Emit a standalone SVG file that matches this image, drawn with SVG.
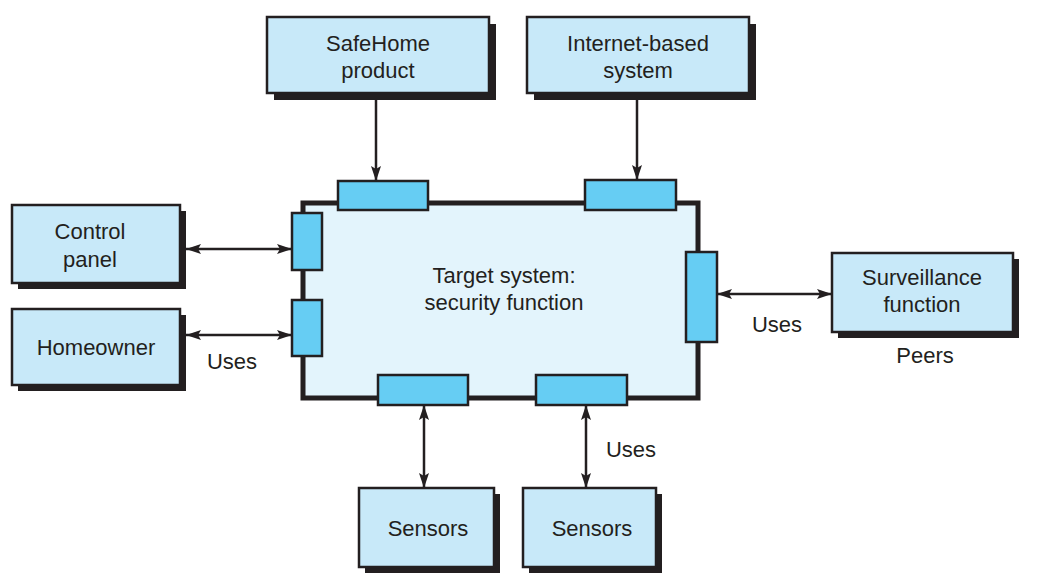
<svg xmlns="http://www.w3.org/2000/svg" width="1047" height="581" viewBox="0 0 1047 581">
<defs>
<style>
.bg{fill:#ffffff}
.shadow{fill:#231f20}
.box{fill:#c8e9f9;stroke:#231f20;stroke-width:2.5}
.main{fill:#e3f4fc;stroke:#231f20;stroke-width:5}
.port{fill:#66cdf3;stroke:#231f20;stroke-width:2.5}
.conn{stroke:#231f20;stroke-width:2.5;fill:none}
text{font-family:"Liberation Sans",Arial,sans-serif;font-size:22px;fill:#231f20;text-anchor:middle}
</style>
<marker id="ah" viewBox="0 0 15 10" refX="15" refY="5" markerWidth="15" markerHeight="10" markerUnits="userSpaceOnUse" orient="auto-start-reverse">
<path d="M0,0 L15,5 L0,10 L3,5 z" fill="#231f20"/>
</marker>
</defs>
<rect class="bg" x="0" y="0" width="1047" height="581"/>

<g id="target-system">
<rect class="main" x="303" y="203" width="395" height="195"/>
<rect class="port" x="338" y="181" width="90" height="29"/>
<rect class="port" x="585" y="180" width="91" height="30"/>
<rect class="port" x="292" y="213" width="30" height="57"/>
<rect class="port" x="292" y="300" width="30" height="56"/>
<rect class="port" x="686" y="252" width="31" height="90"/>
<rect class="port" x="378" y="375" width="90" height="30"/>
<rect class="port" x="536" y="375" width="91" height="30"/>
<text x="504" y="283">Target system:</text>
<text x="504" y="310">security function</text>
</g>

<g id="safehome-product">
<rect class="shadow" x="274" y="24" width="222" height="76"/>
<rect class="box" x="267" y="17" width="222" height="76"/>
<text x="378" y="51">SafeHome</text>
<text x="378" y="78">product</text>
</g>

<g id="internet-based-system">
<rect class="shadow" x="534" y="24" width="222" height="76"/>
<rect class="box" x="527" y="17" width="222" height="76"/>
<text x="638" y="51">Internet-based</text>
<text x="638" y="78">system</text>
</g>

<g id="control-panel">
<rect class="shadow" x="18" y="211" width="168" height="78"/>
<rect class="box" x="12" y="205" width="168" height="78"/>
<text x="90" y="239">Control</text>
<text x="90" y="267">panel</text>
</g>

<g id="homeowner">
<rect class="shadow" x="18" y="315" width="168" height="76"/>
<rect class="box" x="12" y="309" width="168" height="76"/>
<text x="96" y="355">Homeowner</text>
</g>

<g id="surveillance-function">
<rect class="shadow" x="838" y="259" width="181" height="79"/>
<rect class="box" x="832" y="253" width="181" height="79"/>
<text x="922" y="285">Surveillance</text>
<text x="922" y="312">function</text>
</g>

<g id="sensors-1">
<rect class="shadow" x="365" y="494" width="135" height="79"/>
<rect class="box" x="359" y="488" width="135" height="79"/>
<text x="428" y="536">Sensors</text>
</g>

<g id="sensors-2">
<rect class="shadow" x="529" y="494" width="133" height="79"/>
<rect class="box" x="523" y="488" width="133" height="79"/>
<text x="592" y="536">Sensors</text>
</g>

<g id="connectors">
<line class="conn" x1="376" y1="100" x2="376" y2="181" marker-end="url(#ah)"/>
<line class="conn" x1="637" y1="100" x2="637" y2="180" marker-end="url(#ah)"/>
<line class="conn" x1="186" y1="249" x2="292" y2="249" marker-start="url(#ah)" marker-end="url(#ah)"/>
<line class="conn" x1="186" y1="335" x2="292" y2="335" marker-start="url(#ah)" marker-end="url(#ah)"/>
<line class="conn" x1="717" y1="294" x2="832" y2="294" marker-start="url(#ah)" marker-end="url(#ah)"/>
<line class="conn" x1="424" y1="405" x2="424" y2="488" marker-start="url(#ah)" marker-end="url(#ah)"/>
<line class="conn" x1="586" y1="405" x2="586" y2="488" marker-start="url(#ah)" marker-end="url(#ah)"/>
<text x="232" y="369">Uses</text>
<text x="777" y="332">Uses</text>
<text x="925" y="363">Peers</text>
<text x="631" y="457">Uses</text>
</g>
</svg>
